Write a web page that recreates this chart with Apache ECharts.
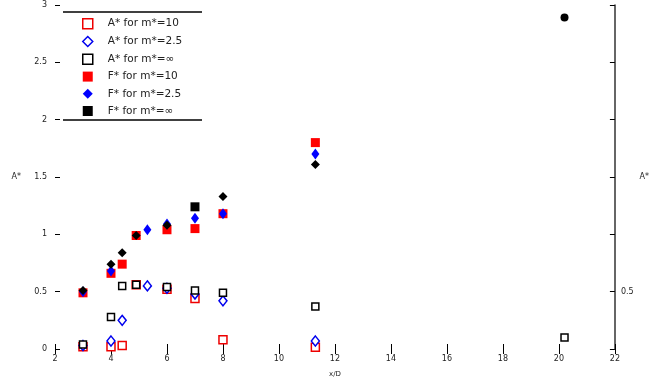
<!DOCTYPE html>
<html>
<head>
<meta charset="utf-8">
<script src="https://cdn.jsdelivr.net/npm/echarts@6/dist/echarts.min.js"></script>
<style>
  html, body { margin: 0; padding: 0; background: #fff; }
  #chart { width: 652px; height: 383px; }
</style>
</head>
<body>
<div id="chart"></div>
<script>
// values: [x, value]
const aM10 = [[3, 0.02], [4, 0.02], [4.4, 0.03], [4.9, 0.56], [6, 0.52], [7, 0.44], [8, 0.08], [11.3, 0.015]];
const aM25 = [[3, 0.03], [4, 0.07], [4.4, 0.25], [5.3, 0.55], [6, 0.53], [7, 0.48], [8, 0.42], [11.3, 0.07]];
const aInf = [[3, 0.04], [4, 0.28], [4.4, 0.55], [4.9, 0.56], [6, 0.54], [7, 0.51], [8, 0.49], [11.3, 0.37], [20.2, 0.1]];
const fM10 = [[3, 0.49], [4, 0.66], [4.4, 0.74], [4.9, 0.99], [6, 1.04], [7, 1.05], [8, 1.18], [11.3, 1.8]];
const fM25 = [[3, 0.5], [4, 0.68], [5.3, 1.04], [6, 1.09], [7, 1.14], [8, 1.18], [11.3, 1.7]];
const fInf = [[3, 0.51], [4, 0.74], [4.4, 0.84], [4.9, 0.99], [6, 1.08], [7, 1.24], [8, 1.33], [11.3, 1.61], [20.2, 2.89]];

const names = ["A* for m*=10", "A* for m*=2.5", "A* for m*=∞", "F* for m*=10", "F* for m*=2.5", "F* for m*=∞"];
const yTicks = ["0", "0.5", "1", "1.5", "2", "2.5", "3"];

const chart = echarts.init(document.getElementById("chart"));
const font = { fontFamily: "DejaVu Sans", fontSize: 8, color: "#222" };

const hollow = (color) => ({ color: "#fff", borderColor: color, borderWidth: 1.5, opacity: 1 });
const solid = (color) => ({ color: color, opacity: 1 });

chart.setOption({
  animation: false,
  grid: { left: 55, right: 36, top: 5, bottom: 28 },
  legend: {
    orient: "vertical",
    left: 77,
    top: 13,
    itemWidth: 10,
    itemHeight: 10,
    itemGap: 6.2,
    textStyle: { fontFamily: "DejaVu Sans", fontSize: 10.5, color: "#222", padding: [0, 0, 0, 10] },
    data: [
      { name: names[0], icon: "rect", itemStyle: hollow("#e00") },
      { name: names[1], icon: "diamond", itemStyle: hollow("#00e") },
      { name: names[2], icon: "rect", itemStyle: hollow("#000") },
      { name: names[3], icon: "rect" },
      { name: names[4], icon: "diamond" },
      { name: names[5], icon: "rect" },
    ],
  },
  graphic: [
    { type: "line", shape: { x1: 63, y1: 12, x2: 202, y2: 12 }, style: { stroke: "#000", lineWidth: 1.5 } },
    { type: "line", shape: { x1: 63, y1: 120, x2: 202, y2: 120 }, style: { stroke: "#000", lineWidth: 1.5 } },
  ],
  xAxis: [
    {
      type: "value",
      min: 2,
      max: 22,
      interval: 2,
      name: "x/D",
      nameLocation: "middle",
      nameGap: 22,
      nameTextStyle: { fontFamily: "DejaVu Sans", fontSize: 7, color: "#222" },
      axisLine: { show: false },
      axisTick: { inside: true, length: 5, lineStyle: { color: "#000" } },
      axisLabel: Object.assign({ margin: 6 }, font),
      splitLine: { show: false },
    },
    {
      type: "value",
      position: "top",
      min: 2,
      max: 22,
      interval: 2,
      axisLine: { show: false },
      axisTick: { inside: true, length: 5, lineStyle: { color: "#000" } },
      axisLabel: { show: false },
      splitLine: { show: false },
    },
  ],
  yAxis: [
    {
      type: "value",
      min: 0,
      max: 3,
      interval: 0.5,
      name: "A*",
      nameLocation: "middle",
      nameRotate: 0,
      nameGap: 34,
      nameTextStyle: { fontFamily: "DejaVu Sans", fontSize: 8, color: "#222" },
      axisLine: { show: false },
      axisTick: { inside: true, length: 5, lineStyle: { color: "#000" } },
      axisLabel: Object.assign({ margin: 8, formatter: (v) => yTicks[Math.round(v * 2)] }, font),
      splitLine: { show: false },
    },
    {
      type: "value",
      position: "right",
      min: 0,
      max: 3,
      interval: 0.5,
      name: "A*",
      nameLocation: "middle",
      nameRotate: 0,
      nameGap: 16,
      nameTextStyle: { fontFamily: "DejaVu Sans", fontSize: 8, color: "#222" },
      axisLine: { show: true, lineStyle: { color: "#333", width: 1.5 } },
      axisTick: { inside: true, length: 5, lineStyle: { color: "#000" } },
      axisLabel: Object.assign({ margin: 6, formatter: (v) => (v === 0.5 ? "0.5" : "") }, font),
      splitLine: { show: false },
    },
  ],
  series: [
    { name: names[0], type: "scatter", data: aM10, symbol: "rect", symbolSize: 8, itemStyle: hollow("#e00"), z: 3 },
    { name: names[1], type: "scatter", data: aM25, symbol: "diamond", symbolSize: [8, 10], itemStyle: hollow("#00e"), z: 4 },
    { name: names[2], type: "scatter", data: aInf, symbol: "rect", symbolSize: 7, itemStyle: hollow("#000"), z: 5 },
    { name: names[3], type: "scatter", data: fM10, symbol: "rect", symbolSize: 9, itemStyle: solid("#f00"), z: 3 },
    { name: names[4], type: "scatter", data: fM25, symbol: "diamond", symbolSize: [8, 11], itemStyle: solid("#00f"), z: 4 },
    {
      name: names[5],
      type: "scatter",
      data: fInf,
      symbol: (v, p) => (p.dataIndex === fInf.length - 1 ? "circle" : p.dataIndex === 5 ? "rect" : "diamond"),
      symbolSize: (v, p) => (p.dataIndex === fInf.length - 1 ? 8 : 9),
      itemStyle: solid("#000"),
      z: 5,
    },
  ],
});
</script>
</body>
</html>
